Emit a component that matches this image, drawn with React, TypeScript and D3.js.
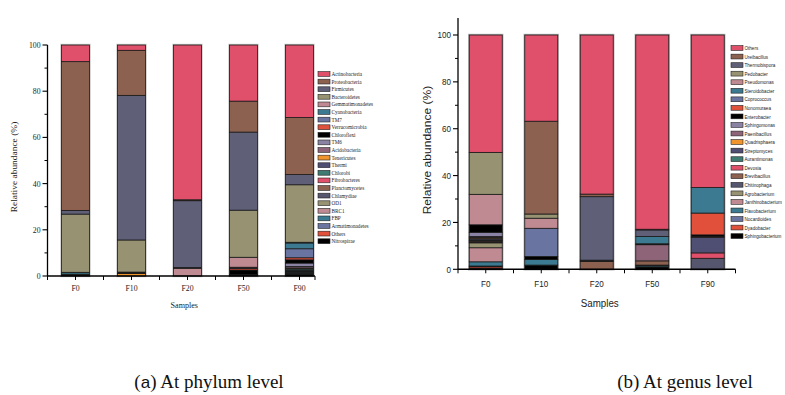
import React from 'react';
import * as d3 from 'd3';

// samples on the x axis
const samples = ['F0', 'F10', 'F20', 'F50', 'F90'];

// phylum level, legend order (top of stack first)
const phylumNames = [
  'Actinobacteria', 'Proteobacteria', 'Firmicutes', 'Bacteroidetes', 'Gemmatimonadetes',
  'Cyanobacteria', 'TM7', 'Verrucomicrobia', 'Chloroflexi', 'TM6', 'Acidobacteria',
  'Tenericutes', 'Thermi', 'Chlorobi', 'Fibrobacteres', 'Planctomycetes', 'Chlamydiae',
  'OD1', 'BRC1', 'FBP', 'Armatimonadetes', 'Others', 'Nitrospirae',
];
const phylumF0 = [7.2, 64.4, 1.6, 25.2, 0.1, 0.7, 0, 0, 0.3, 0, 0, 0, 0, 0, 0, 0, 0, 0, 0, 0, 0, 0.2, 0.3];
const phylumF10 = [2.3, 19.5, 62.6, 13.9, 0, 0, 0, 0, 0.6, 0, 0, 1.1, 0, 0, 0, 0, 0, 0, 0, 0, 0, 0, 0];
const phylumF20 = [67.0, 0.4, 28.9, 0.4, 3.3, 0, 0, 0, 0, 0, 0, 0, 0, 0, 0, 0, 0, 0, 0, 0, 0, 0, 0];
const phylumF50 = [24.3, 13.4, 33.8, 20.4, 4.3, 0.3, 0.2, 0.7, 2.0, 0.1, 0.1, 0, 0, 0, 0, 0, 0, 0, 0, 0, 0, 0.2, 0.2];
const phylumF90 = [31.4, 24.7, 4.4, 24.9, 0.3, 2.5, 3.9, 0.9, 1.4, 1.5, 0.6, 0.1, 0.4, 0.6, 0.2, 0.3, 0.2, 0.2, 0.2, 0.2, 0.2, 0.3, 0.6];

// genus level, legend order (top of stack first)
const genusNames = [
  'Others', 'Ureibacillus', 'Thermobispora', 'Pedobacter', 'Pseudomonas', 'Steroidobacter',
  'Coprococcus', 'Nonomuraea', 'Enterobacter', 'Sphingomonas', 'Paenibacillus', 'Quadrisphaera',
  'Streptomyces', 'Aurantimonas', 'Devosia', 'Brevibacillus', 'Chitinophaga', 'Agrobacterium',
  'Janthinobacterium', 'Flavobacterium', 'Nocardioides', 'Dyadobacter', 'Sphingobacterium',
];
const genusF0 = [50.1, 0, 0, 17.9, 13.0, 0, 0, 0, 3.2, 1.8, 0.4, 0.5, 0.5, 0.3, 0.3, 0.4, 0.3, 2.1, 6.0, 1.8, 0.3, 0.6, 0.5];
const genusF10 = [36.8, 39.6, 0, 1.8, 4.3, 0, 12.0, 0, 1.3, 0, 0, 0, 0, 0, 0, 0, 0, 0, 0, 2.4, 0, 0, 1.8];
const genusF20 = [67.9, 1.1, 27.1, 0, 0, 0, 0, 0, 0.5, 0, 0, 0, 0, 0, 0, 3.4, 0, 0, 0, 0, 0, 0, 0];
const genusF50 = [82.9, 0.3, 2.8, 0, 0, 3.1, 0, 0, 0.4, 0, 6.9, 0, 0, 0, 0, 1.8, 0.3, 0, 0, 0.5, 0, 0, 1.0];
const genusF90 = [65.1, 0, 0, 0, 0, 10.9, 0, 9.3, 0.7, 0, 0.4, 0, 6.6, 0, 2.3, 0, 4.7, 0, 0, 0, 0, 0, 0];

const yTicks = [0, 20, 40, 60, 80, 100];

// same palette for both legends
const palette = [
  '#e0506a', '#8c6150', '#5f5f78', '#979272', '#c08a93', '#3b7a90', '#6a74a0', '#e0503a',
  '#000000', '#8b83a3', '#8e6478', '#f0952e', '#4f4f74', '#3e7b72', '#e0506a', '#8c6150',
  '#56566e', '#979272', '#c08a93', '#3b7a90', '#6a74a0', '#e0503a', '#000000',
];

type PanelProps = {
  names: string[];
  values: number[][];
  left: number;
  right: number;
  axisEnd: number;
  top: number;
  bottom: number;
  axisTop: number;
  barWidth: number;
  font: string;
  sx: number;
  tickSize: number;
  titleSize: number;
  labelX: number;
  labelY: number;
  samplesY: number;
  catY: number;
  legendX: number;
  legendY: number;
  legendStep: number;
  legendSize: number;
  legendSx: number;
  halo: string;
};

function Panel(p: PanelProps) {
  const rows = samples.map((s, i) => {
    const r: any = { sample: s };
    p.names.forEach((n, j) => (r[n] = p.values[i][j]));
    return r;
  });
  const keys = p.names.slice().reverse();
  const series = d3.stack<any>().keys(keys)(rows);
  const color = (k: string) => palette[p.names.indexOf(k)];

  const x = d3.scaleBand().domain(samples).range([p.left, p.right]);
  const y = d3.scaleLinear().domain([0, 100]).range([p.bottom, p.top]);
  const bw = x.bandwidth();
  const off = (bw - p.barWidth) / 2;

  const xTicks: number[] = [];
  samples.forEach((s) => {
    xTicks.push(x(s)!);
    xTicks.push(x(s)! + bw / 2);
  });
  xTicks.push(p.axisEnd);

  const minor = d3.range(10, 100, 20);

  return (
    <g fontFamily={p.font} fill="#222">
      {/* bar halos */}
      {samples.map((s) => (
        <rect key={'h' + s} x={x(s)! + off} y={y(100)} width={p.barWidth} height={y(0) - y(100)}
          fill="none" stroke={p.halo} strokeWidth={2.4} />
      ))}
      {series.map((ser) =>
        ser.map((d, i) =>
          d[1] - d[0] > 0 ? (
            <rect key={ser.key + i} x={x(samples[i])! + off} y={y(d[1])} width={p.barWidth}
              height={y(d[0]) - y(d[1])} fill={color(ser.key)} stroke="#1a1a1a" strokeWidth={0.8} />
          ) : null
        )
      )}
      {/* y axis */}
      <line x1={p.left} x2={p.left} y1={p.axisTop} y2={p.bottom} stroke="#000" strokeWidth={1.3} />
      {yTicks.map((t) => (
        <g key={'y' + t}>
          <line x1={p.left - 5} x2={p.left} y1={y(t)} y2={y(t)} stroke="#000" strokeWidth={1.1} />
          <text transform={`translate(${p.left - 7},${y(t) + p.tickSize * 0.35}) scale(${p.sx},1)`}
            textAnchor="end" fontSize={p.tickSize}>{t}</text>
        </g>
      ))}
      {minor.map((t) => (
        <line key={'m' + t} x1={p.left - 3} x2={p.left} y1={y(t)} y2={y(t)} stroke="#000" strokeWidth={1} />
      ))}
      {/* x axis */}
      <line x1={p.left} x2={p.axisEnd} y1={p.bottom} y2={p.bottom} stroke="#000" strokeWidth={1.5} />
      {xTicks.map((t, i) => (
        <line key={'x' + i} x1={t} x2={t} y1={p.bottom} y2={p.bottom + 4} stroke="#000" strokeWidth={1} />
      ))}
      {samples.map((s) => (
        <text key={'c' + s} transform={`translate(${x(s)! + bw / 2},${p.catY}) scale(${p.sx},1)`}
          textAnchor="middle" fontSize={p.tickSize}>{s}</text>
      ))}
      <text transform={`translate(${(p.left + p.axisEnd) / 2 + 3},${p.samplesY}) scale(${p.sx},1)`}
        textAnchor="middle" fontSize={p.titleSize}>Samples</text>
      <text transform={`translate(${p.labelX},${p.labelY}) scale(${p.sx},1) rotate(-90)`}
        textAnchor="middle" fontSize={p.titleSize * 1.05}>Relative abundance (%)</text>
      {/* legend */}
      {p.names.map((n, i) => {
        const ly = p.legendY + i * p.legendStep;
        return (
          <g key={'l' + n}>
            <rect x={p.legendX} y={ly - 2.4} width={12} height={4.8} fill={palette[i]} stroke="#222" strokeWidth={0.6} />
            <text transform={`translate(${p.legendX + 13.5},${ly + p.legendSize * 0.35}) scale(${p.legendSx},1)`}
              fontSize={p.legendSize}>{n}</text>
          </g>
        );
      })}
    </g>
  );
}

export default function App() {
  const phylumValues = [phylumF0, phylumF10, phylumF20, phylumF50, phylumF90];
  const genusValues = [genusF0, genusF10, genusF20, genusF50, genusF90];
  return (
    <svg width={785} height={395} style={{ position: 'absolute', left: 0, top: 0, background: '#fff' }}>
      <Panel names={phylumNames} values={phylumValues} left={47.5} right={327.5} axisEnd={315}
        top={45} bottom={276} axisTop={45} barWidth={28} font="'Liberation Serif', 'Times New Roman', serif"
        sx={0.9} tickSize={8.6} titleSize={9} labelX={17} labelY={167} samplesY={308} catY={291}
        legendX={318} legendY={74} legendStep={7.6} legendSize={5.8} legendSx={0.9} halo="#c8c8c8" />
      <Panel names={genusNames} values={genusValues} left={458} right={735.5} axisEnd={735.5}
        top={35} bottom={269.3} axisTop={18} barWidth={33} font="'Liberation Sans', Arial, sans-serif"
        sx={0.85} tickSize={9.5} titleSize={11.5} labelX={431} labelY={150} samplesY={307} catY={287}
        legendX={731} legendY={48} legendStep={8.55} legendSize={6.2} legendSx={0.74} halo="#b4b4b4" />
      <text x={209} y={388} textAnchor="middle" fontSize={19} fontFamily="'Liberation Serif', 'Times New Roman', serif" fill="#111">
        (<tspan fontFamily="'Liberation Sans', Arial, sans-serif" fontSize={17}>a</tspan>) At phylum level
      </text>
      <text x={685} y={388} textAnchor="middle" fontSize={19} fontFamily="'Liberation Serif', 'Times New Roman', serif" fill="#111">
        (b) At genus level
      </text>
    </svg>
  );
}
